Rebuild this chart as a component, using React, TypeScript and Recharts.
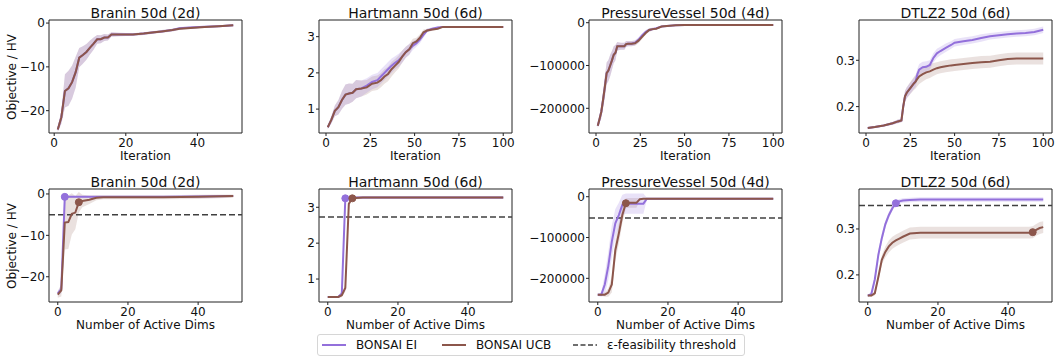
import React from 'react';
import {
  ComposedChart,
  Line,
  Area,
  XAxis,
  YAxis,
  ReferenceLine,
  ReferenceArea,
  Scatter,
} from 'recharts';

const FONT = '"DejaVu Sans", Verdana, sans-serif';
const EI_COLOR = '#9370db';
const UCB_COLOR = '#8c564b';
const THR_COLOR = '#404040';

// ---------- Top row: objective vs iteration ----------
const braninIterX = [1, 2, 3, 4, 5, 6, 7, 8, 9, 10, 11, 12, 13, 14, 15, 16, 18, 20, 22, 25, 28, 30, 33, 35, 38, 42, 46, 50];
const braninIterEi = [-24.3, -21.5, -15.5, -14.9, -13.5, -11.2, -7.9, -7.3, -6.6, -5.6, -4.7, -3.7, -3.7, -3.3, -3.3, -2.6, -2.6, -2.6, -2.6, -2.4, -2.1, -1.9, -1.6, -1.2, -1.0, -0.85, -0.7, -0.5];
const braninIterUcb = [-24.3, -21.5, -15.5, -14.9, -13.5, -11.2, -7.9, -7.3, -6.6, -5.6, -4.7, -3.7, -3.7, -3.3, -3.3, -2.6, -2.6, -2.6, -2.6, -2.4, -2.1, -1.9, -1.6, -1.3, -1.1, -0.9, -0.7, -0.5];
const braninIterEiSd = [0.6, 1.5, 3.8, 4.0, 3.8, 3.5, 2.2, 2.0, 1.8, 1.6, 1.4, 1.0, 0.9, 0.8, 0.7, 0.5, 0.4, 0.35, 0.3, 0.3, 0.3, 0.3, 0.3, 0.3, 0.25, 0.2, 0.2, 0.2];
const braninIterUcbSd = [0.6, 1.5, 3.8, 4.0, 3.8, 3.5, 2.2, 2.0, 1.8, 1.6, 1.4, 1.0, 0.9, 0.8, 0.7, 0.5, 0.4, 0.35, 0.3, 0.3, 0.3, 0.3, 0.3, 0.3, 0.25, 0.2, 0.2, 0.2];

const hartIterX = [1, 3, 5, 7, 9, 11, 13, 15, 17, 20, 23, 26, 29, 31, 33, 35, 37, 39, 41, 43, 45, 47, 49, 51, 53, 55, 57, 60, 63, 66, 70, 80, 90, 100];
const hartIterEi = [0.5, 0.7, 0.95, 1.05, 1.25, 1.4, 1.43, 1.45, 1.55, 1.57, 1.65, 1.75, 1.8, 1.9, 2.0, 2.1, 2.2, 2.28, 2.35, 2.45, 2.57, 2.65, 2.75, 2.82, 2.92, 3.05, 3.17, 3.22, 3.25, 3.27, 3.27, 3.27, 3.27, 3.27];
const hartIterUcb = [0.5, 0.7, 0.95, 1.05, 1.25, 1.4, 1.43, 1.45, 1.55, 1.57, 1.6, 1.7, 1.73, 1.8, 1.9, 1.97, 2.1, 2.2, 2.3, 2.45, 2.57, 2.65, 2.82, 2.87, 2.97, 3.12, 3.17, 3.2, 3.22, 3.27, 3.27, 3.27, 3.27, 3.27];
const hartIterEiSd = [0.05, 0.1, 0.15, 0.2, 0.25, 0.28, 0.28, 0.25, 0.25, 0.22, 0.2, 0.2, 0.2, 0.2, 0.2, 0.2, 0.2, 0.18, 0.18, 0.17, 0.15, 0.15, 0.12, 0.1, 0.1, 0.08, 0.05, 0.04, 0.03, 0.02, 0.02, 0.02, 0.02, 0.02];
const hartIterUcbSd = [0.05, 0.1, 0.15, 0.2, 0.25, 0.28, 0.28, 0.25, 0.25, 0.22, 0.2, 0.2, 0.2, 0.2, 0.2, 0.2, 0.2, 0.18, 0.18, 0.17, 0.15, 0.15, 0.12, 0.1, 0.1, 0.08, 0.05, 0.04, 0.03, 0.02, 0.02, 0.02, 0.02, 0.02];

const pvIterX = [1, 2, 3, 4, 5, 6, 7, 8, 9, 10, 11, 12, 14, 16, 17, 18, 20, 22, 24, 26, 28, 30, 32, 34, 37, 40, 45, 50, 60, 80, 100];
const pvIterEi = [-241000, -225000, -208000, -180000, -150000, -118000, -112000, -100000, -88000, -75000, -70000, -55000, -55000, -55000, -50000, -49000, -49000, -47000, -40000, -30000, -22000, -17000, -15000, -13000, -9000, -7500, -6000, -5500, -5500, -5500, -5500];
const pvIterUcb = [-241000, -225000, -208000, -180000, -150000, -118000, -112000, -100000, -88000, -75000, -70000, -55000, -55000, -55000, -50000, -49000, -49000, -48000, -42000, -33000, -24000, -17000, -15000, -14000, -9000, -7500, -6000, -5500, -5500, -5500, -5500];
const pvIterEiSd = [5000, 10000, 15000, 20000, 25000, 25000, 25000, 25000, 22000, 20000, 18000, 10000, 8000, 8000, 7000, 6000, 6000, 6000, 6000, 5000, 5000, 4000, 3000, 2000, 1500, 1000, 1000, 1000, 500, 500, 500];
const pvIterUcbSd = [5000, 10000, 15000, 20000, 25000, 25000, 25000, 25000, 22000, 20000, 18000, 10000, 8000, 8000, 7000, 6000, 6000, 6000, 6000, 5000, 5000, 4000, 3000, 2000, 1500, 1000, 1000, 1000, 500, 500, 500];

const dtlzIterX = [1, 5, 10, 15, 18, 20, 21, 22, 23, 25, 27, 28, 29, 30, 32, 34, 36, 38, 40, 42, 45, 48, 50, 55, 60, 65, 70, 75, 80, 85, 90, 95, 100];
const dtlzIterEi = [0.154, 0.156, 0.159, 0.164, 0.168, 0.17, 0.2, 0.222, 0.23, 0.24, 0.25, 0.255, 0.27, 0.28, 0.285, 0.286, 0.29, 0.305, 0.315, 0.32, 0.327, 0.333, 0.338, 0.341, 0.344, 0.348, 0.352, 0.354, 0.356, 0.358, 0.359, 0.361, 0.366];
const dtlzIterUcb = [0.154, 0.156, 0.159, 0.164, 0.168, 0.17, 0.2, 0.222, 0.23, 0.24, 0.25, 0.254, 0.26, 0.265, 0.27, 0.274, 0.276, 0.28, 0.283, 0.285, 0.287, 0.289, 0.29, 0.292, 0.294, 0.296, 0.297, 0.3, 0.303, 0.304, 0.304, 0.304, 0.304];
const dtlzIterEiSd = [0.002, 0.002, 0.002, 0.003, 0.004, 0.004, 0.01, 0.012, 0.012, 0.012, 0.012, 0.012, 0.012, 0.012, 0.012, 0.012, 0.01, 0.01, 0.01, 0.009, 0.009, 0.008, 0.008, 0.008, 0.008, 0.008, 0.007, 0.007, 0.007, 0.007, 0.007, 0.007, 0.007];
const dtlzIterUcbSd = [0.002, 0.002, 0.002, 0.003, 0.004, 0.004, 0.01, 0.012, 0.012, 0.013, 0.014, 0.015, 0.016, 0.016, 0.016, 0.015, 0.014, 0.014, 0.013, 0.013, 0.013, 0.013, 0.013, 0.013, 0.013, 0.013, 0.013, 0.013, 0.013, 0.013, 0.013, 0.013, 0.013];

// ---------- Bottom row: objective vs number of active dims ----------
const braninDimX = [0, 1, 2, 3, 4, 5, 6, 7, 9, 11, 13, 20, 30, 40, 50];
const braninDimEi = [-24.0, -23.0, -0.7, -0.7, -0.7, -0.7, -0.7, -0.7, -0.7, -0.7, -0.7, -0.7, -0.7, -0.6, -0.5];
const braninDimUcb = [-24.3, -23.3, -6.9, -6.8, -4.8, -4.5, -2.0, -1.7, -1.4, -0.9, -0.8, -0.8, -0.8, -0.7, -0.5];
const braninDimEiSd = [0.5, 1.0, 0.3, 0.2, 0.2, 0.2, 0.2, 0.2, 0.2, 0.2, 0.2, 0.2, 0.2, 0.2, 0.2];
const braninDimUcbSd = [0.8, 1.5, 6.5, 6.5, 5.0, 4.0, 2.5, 1.5, 1.0, 0.6, 0.5, 0.5, 0.5, 0.5, 0.4];
const braninDimThr = -5.0;
const braninDimEiMark = [2, -0.7];
const braninDimUcbMark = [6, -2.0];

const hartDimX = [0, 1, 2, 3, 4, 5, 6, 7, 10, 20, 30, 40, 50];
const hartDimEi = [0.5, 0.5, 0.5, 0.5, 0.6, 3.25, 3.26, 3.27, 3.27, 3.27, 3.27, 3.27, 3.27];
const hartDimUcb = [0.5, 0.5, 0.5, 0.5, 0.55, 0.75, 3.1, 3.25, 3.27, 3.27, 3.27, 3.27, 3.27];
const hartDimEiSd = [0.02, 0.02, 0.02, 0.03, 0.08, 0.05, 0.03, 0.03, 0.03, 0.03, 0.03, 0.03, 0.03];
const hartDimUcbSd = [0.02, 0.02, 0.02, 0.03, 0.06, 0.1, 0.08, 0.04, 0.03, 0.03, 0.03, 0.03, 0.03];
const hartDimThr = 2.73;
const hartDimEiMark = [5, 3.25];
const hartDimUcbMark = [7, 3.25];

const pvDimX = [0, 1, 2, 3, 4, 5, 6, 7, 8, 9, 10, 11, 12, 13, 14, 20, 30, 40, 50];
const pvDimEi = [-240000, -240000, -215000, -170000, -110000, -65000, -45000, -20000, -17000, -17000, -17000, -17000, -17000, -17000, -5000, -5000, -5000, -5000, -5000];
const pvDimUcb = [-240000, -240000, -240000, -235000, -215000, -131000, -90000, -45000, -16000, -15000, -15000, -15000, -6000, -5000, -5000, -5000, -5000, -5000, -5000];
const pvDimEiSd = [3000, 5000, 25000, 35000, 40000, 35000, 30000, 25000, 25000, 25000, 25000, 25000, 25000, 25000, 2000, 1000, 1000, 1000, 1000];
const pvDimUcbSd = [3000, 3000, 5000, 10000, 20000, 25000, 25000, 20000, 12000, 12000, 12000, 12000, 3000, 2000, 1500, 1000, 1000, 1000, 1000];
const pvDimThr = -52000;
const pvDimUcbMark = [8, -16000];

const dtlzDimX = [0, 1, 2, 3, 4, 5, 6, 7, 8, 9, 10, 12, 15, 19, 25, 30, 40, 46, 47, 48, 49, 50];
const dtlzDimEi = [0.155, 0.158, 0.19, 0.243, 0.28, 0.31, 0.33, 0.345, 0.356, 0.36, 0.362, 0.363, 0.364, 0.364, 0.364, 0.364, 0.364, 0.364, 0.364, 0.364, 0.364, 0.364];
const dtlzDimUcb = [0.155, 0.155, 0.16, 0.195, 0.233, 0.25, 0.262, 0.27, 0.275, 0.279, 0.283, 0.29, 0.292, 0.292, 0.292, 0.292, 0.292, 0.292, 0.293, 0.298, 0.302, 0.304];
const dtlzDimEiSd = [0.002, 0.004, 0.008, 0.01, 0.01, 0.008, 0.007, 0.006, 0.005, 0.005, 0.005, 0.005, 0.005, 0.005, 0.005, 0.005, 0.005, 0.005, 0.005, 0.005, 0.005, 0.005];
const dtlzDimUcbSd = [0.002, 0.003, 0.005, 0.008, 0.01, 0.012, 0.013, 0.013, 0.013, 0.013, 0.013, 0.013, 0.013, 0.013, 0.013, 0.013, 0.013, 0.013, 0.013, 0.013, 0.013, 0.013];
const dtlzDimThr = 0.351;
const dtlzDimEiMark = [8, 0.356];
const dtlzDimUcbMark = [47, 0.293];

// ---------- Axis ticks / labels ----------
const titles = ['Branin 50d (2d)', 'Hartmann 50d (6d)', 'PressureVessel 50d (4d)', 'DTLZ2 50d (6d)'];
const iterTicksShort = [0, 20, 40];
const iterTicksLong = [0, 25, 50, 75, 100];
const dimTicks = [0, 20, 40];
const braninYTicks = [-20, -10, 0];
const hartYTicks = [1, 2, 3];
const pvYTicks = [-200000, -100000, 0];
const dtlzYTicks = [0.2, 0.3];

type Mark = number[] | undefined;
type Spec = {
  title: string;
  xLabel: string;
  xDomain: [number, number];
  xTicks: number[];
  yDomain: [number, number];
  yTicks: number[];
  x: number[];
  ei: number[];
  ucb: number[];
  eiSd: number[];
  ucbSd: number[];
  thr?: number;
  eiMark?: Mark;
  ucbMark?: Mark;
};

const topRow: Spec[] = [
  { title: titles[0], xLabel: 'Iteration', xDomain: [-1.45, 52.45], xTicks: iterTicksShort, yDomain: [-25.1, 0.7], yTicks: braninYTicks, x: braninIterX, ei: braninIterEi, ucb: braninIterUcb, eiSd: braninIterEiSd, ucbSd: braninIterUcbSd },
  { title: titles[1], xLabel: 'Iteration', xDomain: [-3.95, 104.95], xTicks: iterTicksLong, yDomain: [0.34, 3.46], yTicks: hartYTicks, x: hartIterX, ei: hartIterEi, ucb: hartIterUcb, eiSd: hartIterEiSd, ucbSd: hartIterUcbSd },
  { title: titles[2], xLabel: 'Iteration', xDomain: [-3.95, 104.95], xTicks: iterTicksLong, yDomain: [-257700, 6300], yTicks: pvYTicks, x: pvIterX, ei: pvIterEi, ucb: pvIterUcb, eiSd: pvIterEiSd, ucbSd: pvIterUcbSd },
  { title: titles[3], xLabel: 'Iteration', xDomain: [-3.95, 104.95], xTicks: iterTicksLong, yDomain: [0.143, 0.387], yTicks: dtlzYTicks, x: dtlzIterX, ei: dtlzIterEi, ucb: dtlzIterUcb, eiSd: dtlzIterEiSd, ucbSd: dtlzIterUcbSd },
];

const bottomRow: Spec[] = [
  { title: titles[0], xLabel: 'Number of Active Dims', xDomain: [-2.5, 52.5], xTicks: dimTicks, yDomain: [-26.1, 1.2], yTicks: braninYTicks, x: braninDimX, ei: braninDimEi, ucb: braninDimUcb, eiSd: braninDimEiSd, ucbSd: braninDimUcbSd, thr: braninDimThr, eiMark: braninDimEiMark, ucbMark: braninDimUcbMark },
  { title: titles[1], xLabel: 'Number of Active Dims', xDomain: [-2.5, 52.5], xTicks: dimTicks, yDomain: [0.36, 3.51], yTicks: hartYTicks, x: hartDimX, ei: hartDimEi, ucb: hartDimUcb, eiSd: hartDimEiSd, ucbSd: hartDimUcbSd, thr: hartDimThr, eiMark: hartDimEiMark, ucbMark: hartDimUcbMark },
  { title: titles[2], xLabel: 'Number of Active Dims', xDomain: [-2.5, 52.5], xTicks: dimTicks, yDomain: [-258000, 18900], yTicks: pvYTicks, x: pvDimX, ei: pvDimEi, ucb: pvDimUcb, eiSd: pvDimEiSd, ucbSd: pvDimUcbSd, thr: pvDimThr, ucbMark: pvDimUcbMark },
  { title: titles[3], xLabel: 'Number of Active Dims', xDomain: [-2.5, 52.5], xTicks: dimTicks, yDomain: [0.141, 0.387], yTicks: dtlzYTicks, x: dtlzDimX, ei: dtlzDimEi, ucb: dtlzDimUcb, eiSd: dtlzDimEiSd, ucbSd: dtlzDimUcbSd, thr: dtlzDimThr, eiMark: dtlzDimEiMark, ucbMark: dtlzDimUcbMark },
];

const fmt = (v: number) => (v < 0 ? '\u2212' + String(Math.abs(v)) : String(v));

const PLOT_L = 49;
const PLOT_W = 193;
const PLOT_H = 113;
const COL_STEP = 270;
const ROW_TOP = [0, 169];

function dot(color: string) {
  return (props: any) => <circle cx={props.cx} cy={props.cy} r={3.5} fill={color} stroke={color} />;
}

function Panel({ p, col, row }: { p: Spec; col: number; row: number }) {
  const data = p.x.map((xv, i) => ({
    x: xv,
    ei: p.ei[i],
    ucb: p.ucb[i],
    eiBand: [p.ei[i] - p.eiSd[i], p.ei[i] + p.eiSd[i]],
    ucbBand: [p.ucb[i] - p.ucbSd[i], p.ucb[i] + p.ucbSd[i]],
  }));
  const chartLeft = col * COL_STEP - 30;
  const top = ROW_TOP[row];
  const plotLeft = col * COL_STEP + PLOT_L;
  const plotTop = top + 20;
  const tickStyle = { fontSize: 12, fill: '#111', fontFamily: FONT };
  return (
    <>
      <div style={{ position: 'absolute', left: chartLeft, top }}>
        <ComposedChart width={295} height={169} data={data} margin={{ top: 20, right: 23, bottom: 6, left: 34 }}>
          <XAxis
            type="number"
            dataKey="x"
            domain={p.xDomain}
            ticks={p.xTicks}
            allowDataOverflow
            interval={0}
            axisLine={false}
            tickLine={{ stroke: '#222' }}
            tickSize={3}
            tickMargin={2}
            height={30}
            tick={tickStyle}
          />
          <YAxis
            type="number"
            domain={p.yDomain}
            ticks={p.yTicks}
            allowDataOverflow
            interval={0}
            axisLine={false}
            tickLine={{ stroke: '#222' }}
            tickSize={3}
            tickMargin={1}
            width={45}
            tick={tickStyle}
            tickFormatter={fmt}
          />
          <Area dataKey="ucbBand" stroke="none" fill={UCB_COLOR} fillOpacity={0.18} isAnimationActive={false} dot={false} activeDot={false} />
          <Area dataKey="eiBand" stroke="none" fill={EI_COLOR} fillOpacity={0.2} isAnimationActive={false} dot={false} activeDot={false} />
          {p.thr !== undefined && (
            <ReferenceLine y={p.thr} stroke={THR_COLOR} strokeWidth={1.5} strokeDasharray="6 3" />
          )}
          <Line dataKey="ei" type="linear" stroke={EI_COLOR} strokeWidth={2} dot={false} activeDot={false} isAnimationActive={false} />
          <Line dataKey="ucb" type="linear" stroke={UCB_COLOR} strokeWidth={2} dot={false} activeDot={false} isAnimationActive={false} />
          {p.eiMark && (
            <Scatter data={[{ x: p.eiMark[0], y: p.eiMark[1] }]} dataKey="y" shape={dot(EI_COLOR)} isAnimationActive={false} />
          )}
          {p.ucbMark && (
            <Scatter data={[{ x: p.ucbMark[0], y: p.ucbMark[1] }]} dataKey="y" shape={dot(UCB_COLOR)} isAnimationActive={false} />
          )}
          <ReferenceArea
            x1={p.xDomain[0]}
            x2={p.xDomain[1]}
            y1={p.yDomain[0]}
            y2={p.yDomain[1]}
            fill="none"
            fillOpacity={0}
            stroke="#222"
            strokeWidth={1}
            ifOverflow="visible"
          />
        </ComposedChart>
      </div>
      <div
        style={{
          position: 'absolute',
          left: plotLeft - 40,
          width: PLOT_W + 80,
          top: plotTop - 15,
          height: 16,
          lineHeight: '16px',
          textAlign: 'center',
          fontSize: 14,
          color: '#111',
          whiteSpace: 'nowrap',
        }}
      >
        {p.title}
      </div>
      <div
        style={{
          position: 'absolute',
          left: plotLeft - 40,
          width: PLOT_W + 80,
          top: plotTop + PLOT_H + 15,
          height: 16,
          lineHeight: '16px',
          textAlign: 'center',
          fontSize: 12,
          color: '#111',
          whiteSpace: 'nowrap',
        }}
      >
        {p.xLabel}
      </div>
      {col === 0 && (
        <div
          style={{
            position: 'absolute',
            left: 12 - 60,
            top: plotTop + PLOT_H / 2 - 8,
            width: 120,
            height: 16,
            lineHeight: '16px',
            textAlign: 'center',
            fontSize: 12,
            color: '#111',
            transform: 'rotate(-90deg)',
            whiteSpace: 'nowrap',
          }}
        >
          Objective / HV
        </div>
      )}
    </>
  );
}

function LegendItem({ left, color, dashed, label }: { left: number; color: string; dashed?: boolean; label: string }) {
  return (
    <div style={{ position: 'absolute', left, top: 337, height: 16, display: 'flex', alignItems: 'center', whiteSpace: 'nowrap' }}>
      <svg width={24} height={16} style={{ display: 'block' }}>
        <line x1={0} y1={8} x2={24} y2={8} stroke={color} strokeWidth={dashed ? 1.5 : 2} strokeDasharray={dashed ? '5 2.5' : undefined} />
      </svg>
      <span style={{ marginLeft: 10, fontSize: 12, color: '#111', lineHeight: '16px' }}>{label}</span>
    </div>
  );
}

export default function App() {
  return (
    <div
      style={{
        position: 'absolute',
        left: 0,
        top: 0,
        width: 1056,
        height: 358,
        background: '#fff',
        fontFamily: FONT,
        overflow: 'hidden',
      }}
    >
      <style>{'.recharts-surface{overflow:visible}'}</style>
      {topRow.map((p, i) => (
        <Panel key={'t' + i} p={p} col={i} row={0} />
      ))}
      {bottomRow.map((p, i) => (
        <Panel key={'b' + i} p={p} col={i} row={1} />
      ))}
      <div
        style={{
          position: 'absolute',
          left: 317,
          top: 334,
          width: 428,
          height: 22,
          border: '1px solid #d6d6d6',
          borderRadius: 3,
          boxSizing: 'border-box',
          background: '#fff',
        }}
      />
      <LegendItem left={322} color={EI_COLOR} label="BONSAI EI" />
      <LegendItem left={442} color={UCB_COLOR} label="BONSAI UCB" />
      <LegendItem left={573} color={THR_COLOR} dashed label="ε-feasibility threshold" />
    </div>
  );
}
